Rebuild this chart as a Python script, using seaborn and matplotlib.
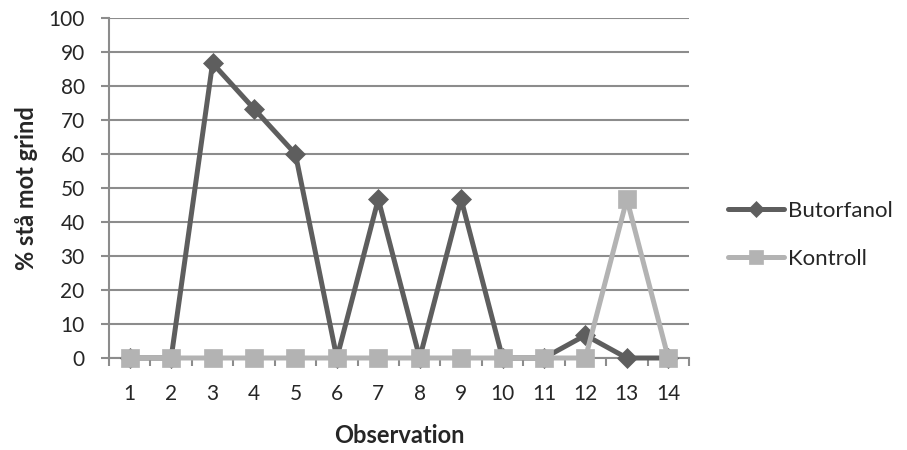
import matplotlib
matplotlib.use("Agg")
import matplotlib.pyplot as plt
import seaborn as sns
import pandas as pd
from matplotlib.ticker import MultipleLocator, FixedLocator

observations = list(range(1, 15))
butorfanol = [0, 0, 86.7, 73.3, 60, 0, 46.7, 0, 46.7, 0, 0, 6.7, 0, 0]
kontroll = [0, 0, 0, 0, 0, 0, 0, 0, 0, 0, 0, 0, 46.7, 0]
series_names = ["Butorfanol", "Kontroll"]
colors = {"Butorfanol": "#5e5e5e", "Kontroll": "#b3b3b3"}
markers = {"Butorfanol": "D", "Kontroll": "s"}
marker_sizes = {"Butorfanol": 10.5, "Kontroll": 13.5}

df = pd.concat([
    pd.DataFrame({"Observation": observations, "value": butorfanol, "serie": "Butorfanol"}),
    pd.DataFrame({"Observation": observations, "value": kontroll, "serie": "Kontroll"}),
])

sns.set_style("white")
plt.rcParams["font.family"] = ["Lato", "DejaVu Sans"]

fig = plt.figure(figsize=(9.07, 4.5), dpi=100)
ax = fig.add_axes([109/907, 1 - 358/450, 580/907, 340/450])

for name in series_names:
    sub = df[df["serie"] == name]
    sns.lineplot(data=sub, x="Observation", y="value", ax=ax, color=colors[name],
                 marker=markers[name], markersize=marker_sizes[name],
                 markeredgecolor=colors[name], markeredgewidth=0.5, linewidth=3.6,
                 label=name, zorder=3 if name == "Butorfanol" else 4, clip_on=False)

ax.set_xlim(0.5, 14.5)
ax.set_ylim(0, 100)
ax.yaxis.set_major_locator(MultipleLocator(10))
ax.set_xticks(observations)
ax.set_xticklabels([str(o) for o in observations])
ax.xaxis.set_minor_locator(FixedLocator([o + 0.5 for o in range(0, 15)]))
ax.grid(axis="y", color="#8c8c8c", linewidth=1.5, zorder=0)
ax.set_axisbelow(True)
for s in ["top", "right"]:
    ax.spines[s].set_visible(False)
for s in ["left", "bottom"]:
    ax.spines[s].set_color("#8c8c8c")
    ax.spines[s].set_linewidth(1.5)
    ax.spines[s].set_zorder(1)

ax.tick_params(axis="y", which="major", direction="out", length=5.5, width=1.5,
               color="#8c8c8c", left=True, labelsize=15, pad=12)
ax.tick_params(axis="x", which="major", length=0, labelsize=15, pad=19)
ax.tick_params(axis="x", which="minor", direction="out", length=5.5, width=1.5,
               color="#8c8c8c", bottom=True)

ax.set_xlabel("Observation", fontsize=17, fontweight="bold")
ax.set_ylabel("% stå mot grind", fontsize=17, fontweight="bold")
ax.xaxis.set_label_coords(0.5, (358 - 424) / 340)
ax.yaxis.set_label_coords((38 - 109) / 580, 0.5)

leg = ax.legend(loc="center left", bbox_to_anchor=(1.068, (358 - 235) / 340), frameon=False,
                fontsize=16, handlelength=2.5, handletextpad=0.2, labelspacing=1.25,
                markerscale=0.75, borderaxespad=0, borderpad=0)

fig.savefig("out.png", dpi=100)
